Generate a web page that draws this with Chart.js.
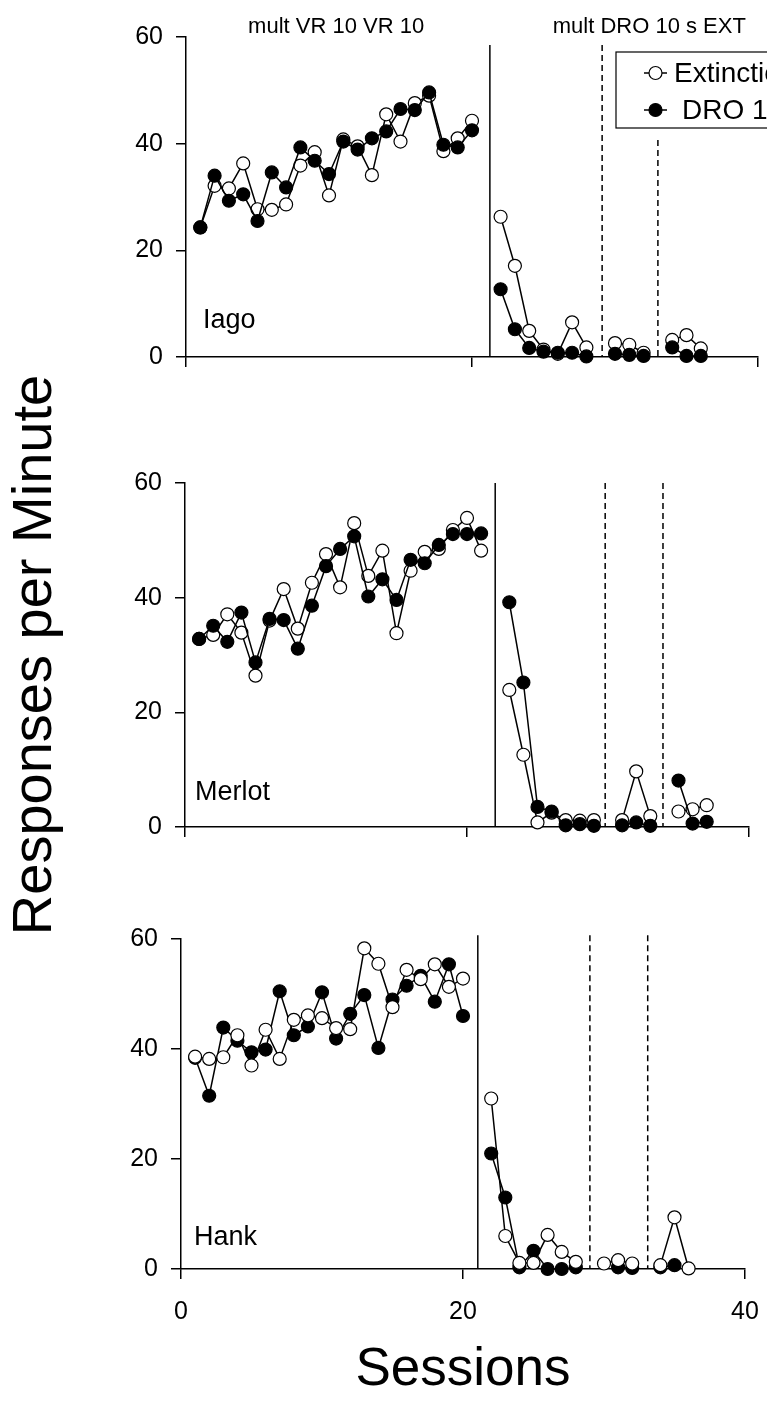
<!DOCTYPE html>
<html lang="en">
<head>
<meta charset="UTF-8">
<title>Responses per Minute</title>
<style>
  html, body { margin: 0; padding: 0; background: #fff; }
  .wrap { position: relative; width: 767px; height: 1418px; overflow: hidden; }
  .wrap canvas { position: absolute; left: 0; top: 0; }
</style>
</head>
<body>
<div class="wrap">
  <canvas id="iago" width="767" height="1418"></canvas>
  <canvas id="merlot" width="767" height="1418"></canvas>
  <canvas id="hank" width="767" height="1418"></canvas>
</div>

<script src="https://cdn.jsdelivr.net/npm/chart.js@4"></script>
<script>
// sessions per subject (null = no session, breaks the line between phases)
const iagoSessions = [1,2,3,4,5,6,7,8,9,10,11,12,13,14,15,16,17,18,19,20,21,22,23,24,25,26,27,28,29,30,31,32,33,34,35,36];
const iagoExt = [24.3,32.1,31.6,36.3,27.7,27.6,28.6,35.9,38.4,30.3,40.8,39.5,34.1,45.5,40.4,47.6,49.0,38.6,41.0,44.3,
  null,26.3,17.1,4.9,1.4,0.6,6.5,1.8,null,2.6,2.3,0.8,null,3.2,4.1,1.6];
const iagoDro = [24.3,34.0,29.3,30.5,25.5,34.6,31.8,39.3,36.8,34.3,40.4,38.9,41.0,42.3,46.5,46.3,49.6,39.8,39.3,42.5,
  null,12.7,5.2,1.7,1.0,0.8,0.8,0.1,null,0.6,0.4,0.2,null,1.8,0.2,0.2];

const merlotSessions = [1,2,3,4,5,6,7,8,9,10,11,12,13,14,15,16,17,18,19,20,21,22,23,24,25,26,27,28,29,30,31,32,33,34,35,36,37];
const merlotExt = [32.8,33.5,37.1,33.9,26.4,36.0,41.5,34.6,42.6,47.6,41.8,53.0,43.8,48.2,33.8,44.7,48.0,48.5,51.8,53.9,48.2,
  null,23.9,12.6,0.8,2.5,1.2,1.1,1.2,null,1.2,9.7,1.9,null,2.7,3.1,3.8];
const merlotDro = [32.8,35.1,32.3,37.4,28.7,36.3,36.1,31.1,38.6,45.5,48.5,50.7,40.2,43.2,39.6,46.6,46.0,49.2,51.1,51.1,51.2,
  null,39.2,25.2,3.5,2.7,0.3,0.5,0.2,null,0.3,0.8,0.2,null,8.1,0.6,0.9];

const hankSessions = [1,2,3,4,5,6,7,8,9,10,11,12,13,14,15,16,17,18,19,20,21,22,23,24,25,26,27,28,29,30,31,32,33,34,35,36];
const hankExt = [38.6,38.2,38.5,42.5,37.0,43.5,38.2,45.3,46.1,45.6,43.8,43.6,58.3,55.5,47.6,54.4,52.7,55.4,51.3,52.8,
  null,31.0,6.0,1.1,1.1,6.2,3.1,1.3,null,1.0,1.6,1.0,null,0.7,9.4,0.1];
const hankDro = [38.4,31.5,43.9,41.5,39.4,39.9,50.5,42.5,44.1,50.3,41.9,46.4,49.8,40.2,49.0,51.5,53.3,48.6,55.4,46.0,
  null,21.0,13.0,0.3,3.3,0.0,0.0,0.3,null,null,0.3,0.2,null,0.3,0.7,null];

// phase change lines (session values)
const iagoPhases = [21.25, 29.1, 33.0];
const merlotPhases = [22.0, 29.8, 33.9];
const hankPhases = [21.05, 29.0, 33.1];

const yTicks = [0, 20, 40, 60];
const xTicks = [0, 20, 40];

const FONT = "'Liberation Sans', Arial, Helvetica, sans-serif";
Chart.defaults.font.family = FONT;
Chart.defaults.color = '#000';

function pts(sessions, vals) {
  return sessions.map((s, i) => ({ x: s, y: vals[i] }));
}

// draws phase lines, panel names, condition titles and the legend
const decorPlugin = {
  id: 'decor',
  beforeDatasetsDraw(chart, args, o) {
    const ctx = chart.ctx;
    const xs = chart.scales.x, ys = chart.scales.y;
    ctx.save();
    ctx.strokeStyle = '#000';
    ctx.lineWidth = 1.5;
    o.lines.forEach((ln, i) => {
      const px = xs.getPixelForValue(ln.x);
      ctx.setLineDash(i === 0 ? [] : [6, 4]);
      ctx.beginPath();
      ctx.moveTo(px, ys.getPixelForValue(ln.top));
      ctx.lineTo(px, ys.getPixelForValue(0));
      ctx.stroke();
    });
    ctx.restore();
  },
  afterDatasetsDraw(chart, args, o) {
    const ctx = chart.ctx;
    const area = chart.chartArea;
    ctx.save();
    ctx.fillStyle = '#000';
    ctx.font = '27px ' + FONT;
    ctx.textBaseline = 'alphabetic';
    ctx.textAlign = 'left';
    ctx.fillText(o.name, area.left + o.nameDx, area.bottom - o.nameDy);

    if (o.titles) {
      ctx.font = '22px ' + FONT;
      ctx.textAlign = 'center';
      ctx.textBaseline = 'middle';
      o.titles.forEach(t => ctx.fillText(t.text, chart.scales.x.getPixelForValue(t.x), t.y));
    }

    if (o.legend) {
      const L = o.legend;
      ctx.lineWidth = 1.2;
      ctx.strokeStyle = '#000';
      ctx.strokeRect(L.left, L.top, 300, L.bottom - L.top);
      ctx.font = '28px ' + FONT;
      ctx.textAlign = 'left';
      ctx.textBaseline = 'middle';
      L.items.forEach((it, i) => {
        const y = L.rows[i];
        ctx.lineWidth = 1.5;
        ctx.beginPath();
        ctx.moveTo(L.left + 28, y);
        ctx.lineTo(L.left + 51, y);
        ctx.stroke();
        ctx.beginPath();
        ctx.arc(L.left + 39.5, y, 6.5, 0, Math.PI * 2);
        ctx.fillStyle = it.fill;
        ctx.fill();
        ctx.lineWidth = 1.2;
        ctx.stroke();
        ctx.fillStyle = '#000';
        ctx.fillText(it.text, L.left + it.dx, y + 1);
      });
    }
    ctx.restore();
  }
};

function makePanel(id, sessions, ext, dro, box, decor, extra) {
  const H = 1418, W = 767;
  const xh = extra.xHeight;
  return new Chart(document.getElementById(id), {
    type: 'line',
    data: {
      datasets: [
        {
          label: 'Extinction',
          data: pts(sessions, ext),
          borderColor: '#000',
          borderWidth: 1.5,
          pointRadius: 6.5,
          pointBackgroundColor: '#fff',
          pointBorderColor: '#000',
          pointBorderWidth: 1.2,
          tension: 0,
          clip: false,
          order: extra.extOnTop ? 0 : 1
        },
        {
          label: 'DRO 10 s',
          data: pts(sessions, dro),
          borderColor: '#000',
          borderWidth: 1.5,
          pointRadius: 6.5,
          pointBackgroundColor: '#000',
          pointBorderColor: '#000',
          pointBorderWidth: 1.2,
          tension: 0,
          clip: false,
          order: extra.extOnTop ? 1 : 0
        }
      ]
    },
    options: {
      responsive: false,
      animation: false,
      events: [],
      layout: {
        padding: { left: 0, top: box.top, right: W - box.right, bottom: H - box.bottom - xh }
      },
      plugins: {
        legend: { display: false },
        tooltip: { enabled: false },
        decor: decor
      },
      scales: {
        x: {
          type: 'linear',
          min: 0,
          max: 40,
          afterBuildTicks: s => { s.ticks = xTicks.map(v => ({ value: v })); },
          ticks: {
            display: extra.showX,
            font: { size: 25 },
            color: '#000',
            padding: 18,
            maxRotation: 0
          },
          grid: { drawOnChartArea: false, drawTicks: true, tickLength: 10, color: '#000', lineWidth: 1.5 },
          border: { display: true, color: '#000', width: 1.5 },
          title: extra.xTitle ? {
            display: true, text: extra.xTitle, font: { size: 53 }, color: '#000', padding: { top: 0, bottom: 16 }
          } : { display: false },
          afterFit: s => {
            s.height = xh;
            s.paddingLeft = 0; s.paddingRight = 0; s.paddingTop = 0; s.paddingBottom = 0;
          }
        },
        y: {
          min: 0,
          max: 60,
          afterBuildTicks: s => { s.ticks = yTicks.map(v => ({ value: v })); },
          ticks: { font: { size: 25 }, color: '#000', padding: 13 },
          grid: { drawOnChartArea: false, drawTicks: true, tickLength: 10, color: '#000', lineWidth: 1.5 },
          border: { display: true, color: '#000', width: 1.5 },
          title: extra.yTitle ? {
            display: true, text: extra.yTitle, font: { size: 56 }, color: '#000', padding: { top: 2, bottom: 0 }
          } : { display: false },
          afterFit: s => {
            s.width = box.left;
            s.paddingLeft = 0; s.paddingRight = 0; s.paddingTop = 0; s.paddingBottom = 0;
          }
        }
      }
    },
    plugins: [decorPlugin]
  });
}

makePanel('iago', iagoSessions, iagoExt, iagoDro,
  { left: 186, right: 758, top: 37, bottom: 357 },
  {
    lines: [{ x: iagoPhases[0], top: 58.5 }, { x: iagoPhases[1], top: 58.5 }, { x: iagoPhases[2], top: 40.7 }],
    name: 'Iago', nameDx: 17, nameDy: 29,
    titles: [{ text: 'mult VR 10 VR 10', x: 10.5, y: 27 }, { text: 'mult DRO 10 s EXT', x: 32.4, y: 27 }],
    legend: {
      left: 616, top: 52, bottom: 128, rows: [73, 110],
      items: [{ text: 'Extinction', fill: '#fff', dx: 58 }, { text: 'DRO 10 s', fill: '#000', dx: 66 }]
    }
  },
  { xHeight: 20, showX: false, extOnTop: false });

makePanel('merlot', merlotSessions, merlotExt, merlotDro,
  { left: 185, right: 749, top: 483, bottom: 827 },
  {
    lines: [{ x: merlotPhases[0], top: 60 }, { x: merlotPhases[1], top: 60 }, { x: merlotPhases[2], top: 60 }],
    name: 'Merlot', nameDx: 10, nameDy: 27
  },
  { xHeight: 20, showX: false, extOnTop: false, yTitle: 'Responses per Minute' });

makePanel('hank', hankSessions, hankExt, hankDro,
  { left: 181, right: 745, top: 939, bottom: 1269 },
  {
    lines: [{ x: hankPhases[0], top: 60.7 }, { x: hankPhases[1], top: 60.7 }, { x: hankPhases[2], top: 60.7 }],
    name: 'Hank', nameDx: 13, nameDy: 24
  },
  { xHeight: 1418 - 1269, showX: true, extOnTop: true, xTitle: 'Sessions' });
</script>
</body>
</html>
